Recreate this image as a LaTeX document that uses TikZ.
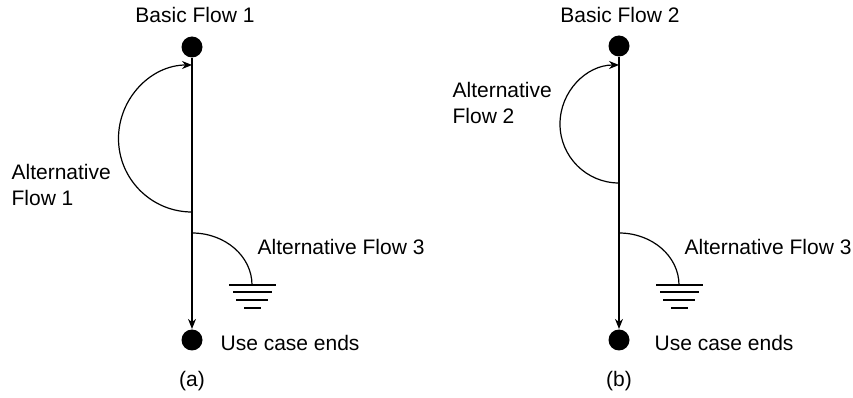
\documentclass[tikz,border=0pt]{standalone}
\usepackage{fontspec}
\setmainfont{Liberation Sans}
\usetikzlibrary{arrows.meta}
\begin{document}
\begin{tikzpicture}[x=0.5pt, y=0.5pt, line width=0.6pt,
    >={Stealth[length=5pt, width=4pt]}]
    % Node styles
    \tikzset{dot/.style={circle, fill=black, inner sep=0pt, minimum size=10.5pt},
             lbl/.style={font=\fontsize{10.5}{13}\selectfont, inner sep=0pt}}
    \useasboundingbox (0,0) rectangle (853,397);

    % (a)
    \node[lbl] (a-title) at (195,382) {Basic Flow 1};
    \node[dot] (a-start) at (192,350) {};
    \node[dot] (a-end) at (192,57) {};
    \coordinate (a-alt1s) at (192,185);
    \coordinate (a-alt1e) at (192,332);
    \coordinate (a-alt3s) at (192,164);
    \coordinate (a-gnd) at (252,112);
    \node[lbl, align=left, anchor=west] (a-alt1) at (11,212) {Alternative\\Flow 1};
    \node[lbl, anchor=west] (a-alt3) at (257,150) {Alternative Flow 3};
    \node[lbl, anchor=west] (a-ends) at (220,54) {Use case ends};
    \node[lbl] (a-cap) at (192,16) {(a)};

    % (b)
    \node[lbl] (b-title) at (620,382) {Basic Flow 2};
    \node[dot] (b-start) at (619,351) {};
    \node[dot] (b-end) at (619,57) {};
    \coordinate (b-alt2s) at (619,214);
    \coordinate (b-alt2e) at (619,332);
    \coordinate (b-alt3s) at (619,164);
    \coordinate (b-gnd) at (679,112);
    \node[lbl, align=left, anchor=west] (b-alt2) at (452,294) {Alternative\\Flow 2};
    \node[lbl, anchor=west] (b-alt3) at (684,150) {Alternative Flow 3};
    \node[lbl, anchor=west] (b-ends) at (654,54) {Use case ends};
    \node[lbl] (b-cap) at (619,16) {(b)};

    % Edges
    \draw[->] (a-start) -- (a-end);
    \draw[->] (a-alt1s) arc[start angle=270, end angle=90, radius=73.5];
    \draw (a-alt3s) arc[start angle=90, end angle=0, x radius=60, y radius=52];

    \draw[->] (b-start) -- (b-end);
    \draw[->] (b-alt2s) arc[start angle=270, end angle=90, radius=59];
    \draw (b-alt3s) arc[start angle=90, end angle=0, x radius=60, y radius=52];

    % ground symbols
    \draw ([shift={(-23,0)}]a-gnd) -- ++(47,0)
          ([shift={(-19,-7)}]a-gnd) -- ++(39,0)
          ([shift={(-16,-15)}]a-gnd) -- ++(32,0)
          ([shift={(-8,-23)}]a-gnd) -- ++(17,0);
    \draw ([shift={(-23,0)}]b-gnd) -- ++(47,0)
          ([shift={(-19,-7)}]b-gnd) -- ++(39,0)
          ([shift={(-16,-15)}]b-gnd) -- ++(32,0)
          ([shift={(-8,-23)}]b-gnd) -- ++(17,0);
\end{tikzpicture}
\end{document}
